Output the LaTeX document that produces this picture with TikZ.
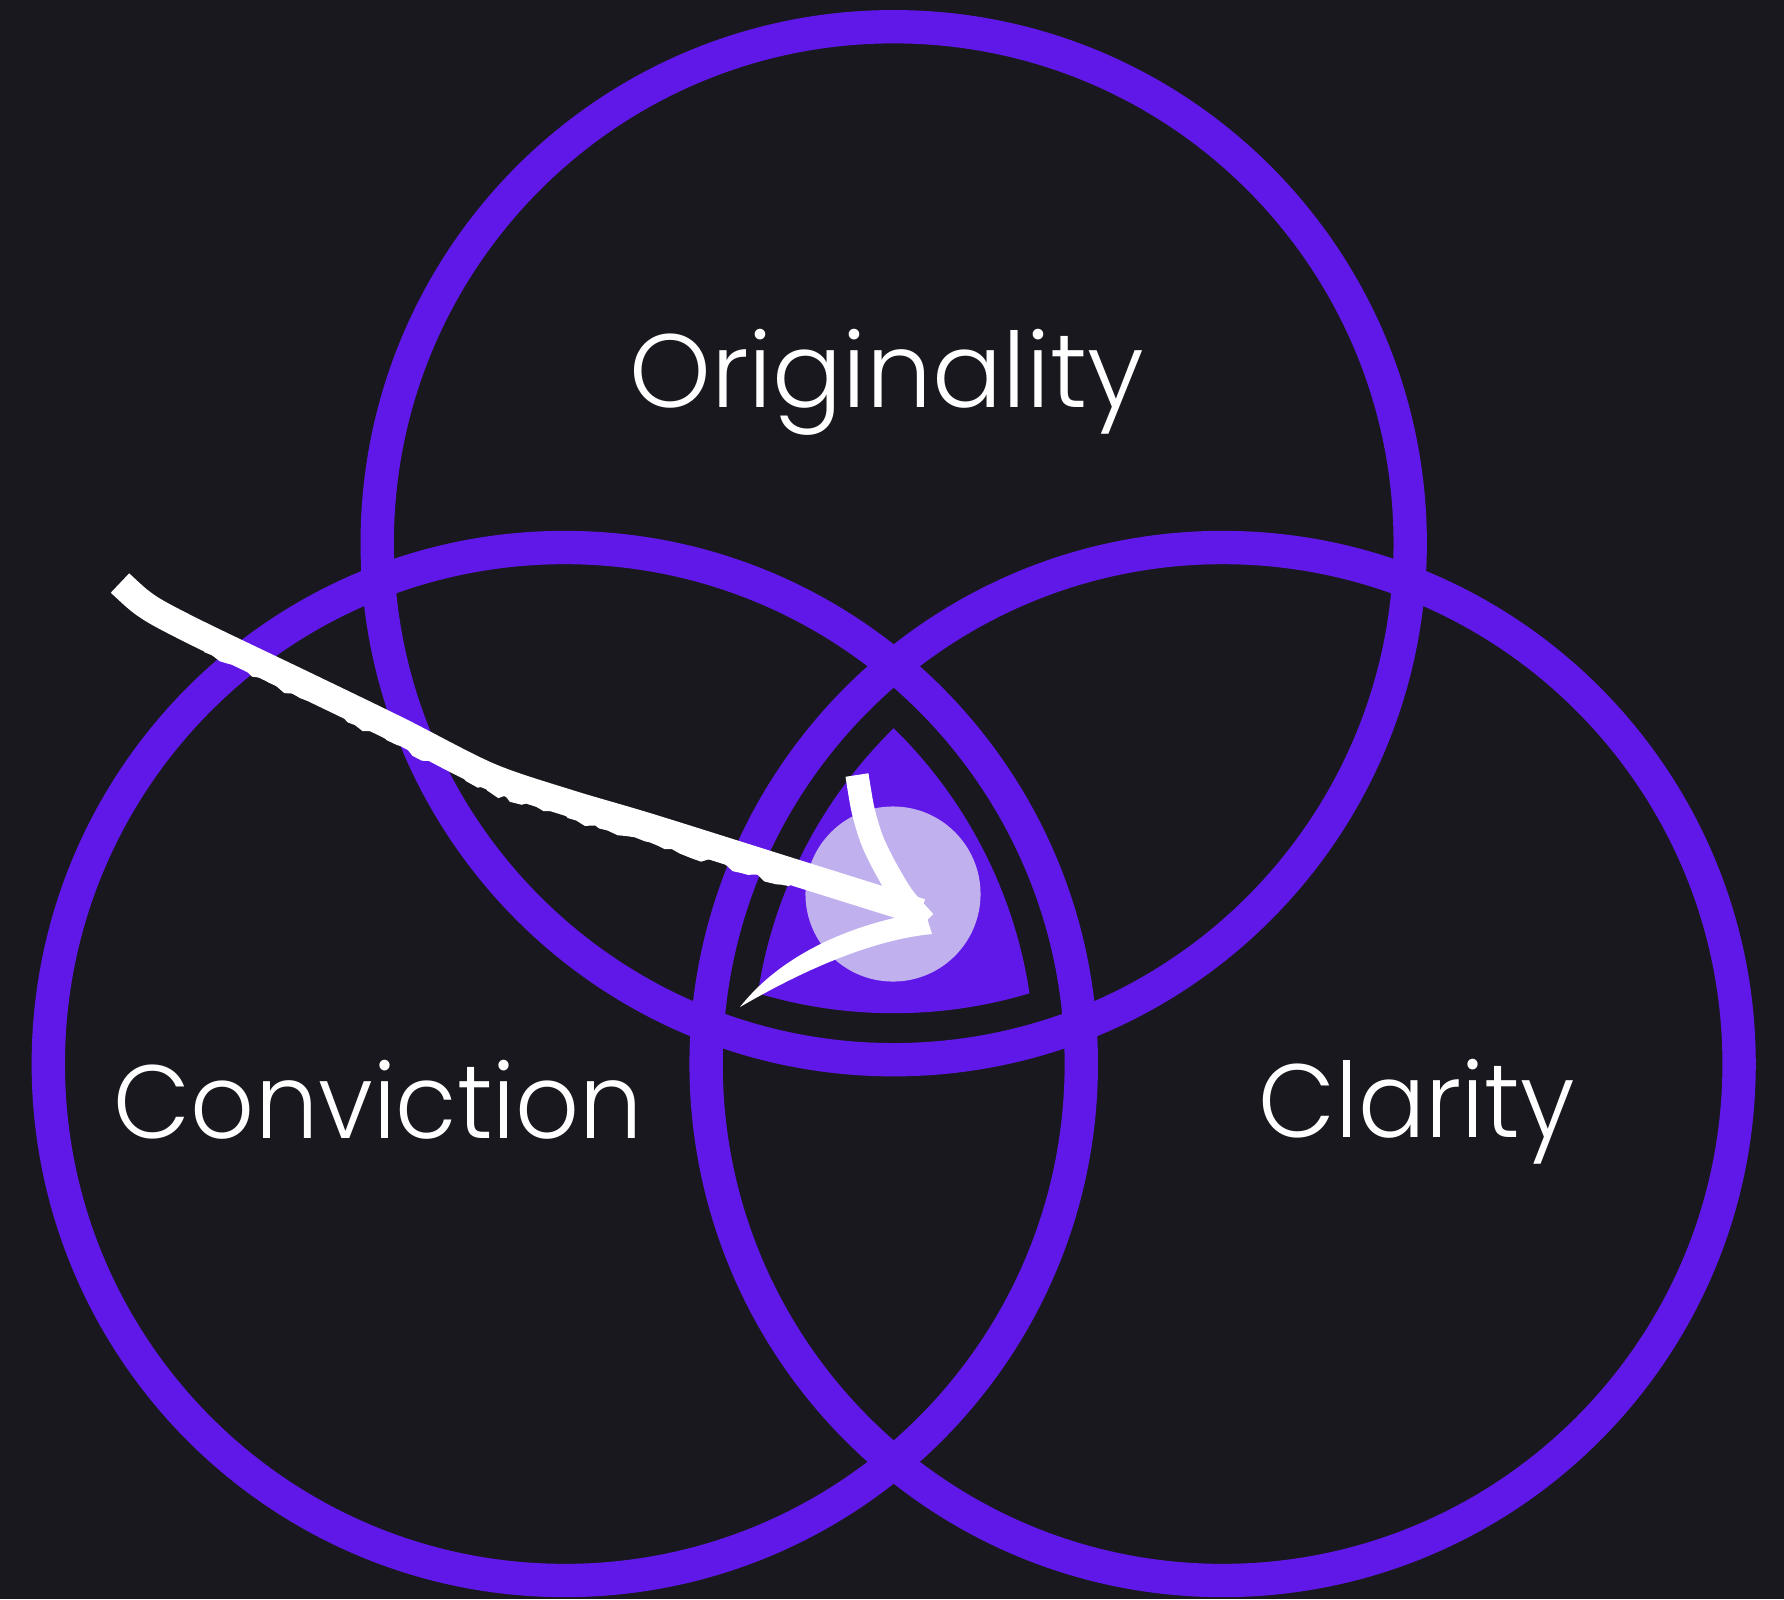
\documentclass[tikz,border=0pt]{standalone}
\usepackage{fontspec}
\newfontfamily\vennfont{Poppins Light}
\usetikzlibrary{decorations.pathmorphing}
\definecolor{night}{RGB}{25,24,31}
\definecolor{vennpurple}{RGB}{96,24,233}
\definecolor{lilac}{RGB}{193,176,238}

\begin{document}
\begin{tikzpicture}[x=0.01cm,y=-0.01cm,
 ring/.style={draw=vennpurple,line width=9.48pt},
 brush/.style={draw=white,line width=7.6pt,line cap=butt,line join=round},
 fringe/.style={draw=white,line width=1.3pt,decorate,decoration={random steps,segment length=2.5pt,amplitude=0.9pt}},
 lab/.style={text=white,font=\vennfont\fontsize{29.6}{30}\selectfont,anchor=base,inner sep=0pt,xscale=0.96}
]
\fill[night] (0,0) rectangle (1784,1599);
\useasboundingbox (0,0) rectangle (1784,1599);
\pgfmathsetseed{7}

\coordinate (cT) at (893.7,543.2);
\coordinate (cL) at (564.8,1064);
\coordinate (cR) at (1222.6,1064);

\begin{scope}
 \clip (cL) circle[radius=470];
 \clip (cR) circle[radius=470];
 \fill[vennpurple] (cT) circle[radius=470];
\end{scope}

\foreach \c in {cT,cL,cR}
 \draw[ring] (\c) circle[radius=516.5];

\node[circle,fill=lilac,minimum width=1.70cm,minimum height=1.75cm,inner sep=0pt] (core) at (893,894) {};

\node[lab,xscale=1.04] (orig) at (886.5,407) {Originality};
\node[lab] (conv) at (378.5,1138) {Conviction};
\node[lab] (clar) at (1416.5,1137) {Clarity};

\coordinate (tail) at (120,583);
\coordinate (tip) at (921,912);
\coordinate (barbU) at (857,775);
\coordinate (barbD) at (740,1007);

\draw[brush] plot[smooth] coordinates {(tail) (140,601) (160,614) (205,637) (301,683)
 (398,730) (489,776) (569,803) (650,827) (790,871) (tip)};
\draw[fringe] (205,650) -- (301,696) -- (398,743) -- (489,789) -- (569,816)
 -- (650,840) -- (790,884);
\draw[brush,line width=6.6pt] plot[smooth] coordinates {(barbU) (863,810) (872,840)
 (885,867) (903,897) (925,922)};
\fill[white] (925,912) .. controls (860,922) and (785,950) .. (barbD)
 .. controls (800,972) and (870,940) .. (932,934) -- cycle;
\end{tikzpicture}
\end{document}
